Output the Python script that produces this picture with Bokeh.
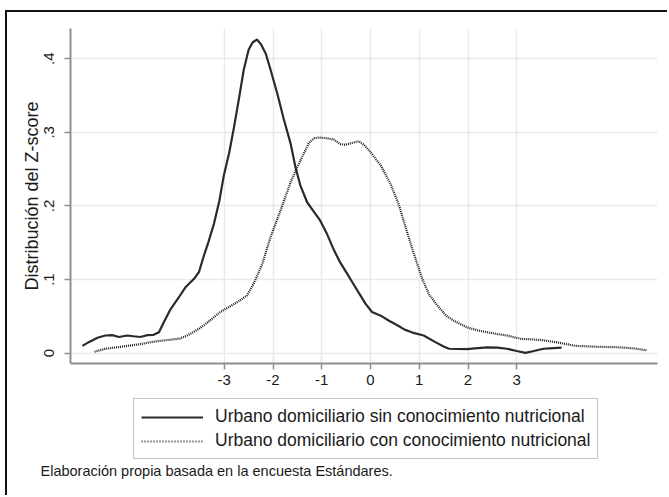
from bokeh.plotting import figure
from bokeh.layouts import column
from bokeh.models import Range1d, FixedTicker, Legend, LegendItem, Label
from bokeh.embed import file_html
from bokeh.resources import INLINE

# Kernel density, urban households WITHOUT nutrition knowledge (solid)
solid_x = [-5.91, -5.78, -5.60, -5.44, -5.30, -5.16, -4.99, -4.86, -4.72, -4.58,
           -4.45, -4.34, -4.24, -4.10, -3.93, -3.79, -3.62, -3.52, -3.42, -3.32,
           -3.21, -3.10, -3.01, -2.90, -2.80, -2.70, -2.60, -2.50, -2.42, -2.33,
           -2.25, -2.15, -2.05, -1.91, -1.78, -1.64, -1.54, -1.44, -1.30, -1.16,
           -1.03, -0.90, -0.75, -0.62, -0.48, -0.36, -0.24, -0.10, 0.03, 0.21,
           0.38, 0.55, 0.70, 0.86, 1.09, 1.33, 1.50, 1.61, 1.98, 2.20,
           2.40, 2.60, 2.80, 3.00, 3.18, 3.35, 3.55, 3.75, 3.92]
solid_y = [0.010, 0.015, 0.021, 0.024, 0.0245, 0.022, 0.024, 0.023, 0.022, 0.0245,
           0.025, 0.0285, 0.042, 0.060, 0.076, 0.090, 0.101, 0.110, 0.132, 0.152,
           0.176, 0.207, 0.241, 0.272, 0.307, 0.345, 0.385, 0.412, 0.422, 0.426,
           0.420, 0.407, 0.385, 0.352, 0.318, 0.285, 0.253, 0.228, 0.205, 0.192,
           0.180, 0.163, 0.140, 0.123, 0.108, 0.095, 0.082, 0.067, 0.056, 0.051,
           0.044, 0.038, 0.032, 0.028, 0.024, 0.015, 0.009, 0.006, 0.0055, 0.007,
           0.008, 0.0075, 0.006, 0.003, 0.0005, 0.003, 0.006, 0.007, 0.0075]

# Kernel density, urban households WITH nutrition knowledge (dotted)
dot_x = [-5.66, -5.44, -5.09, -4.75, -4.41, -4.07, -3.90, -3.73, -3.52, -3.30,
         -3.08, -2.74, -2.54, -2.40, -2.22, -2.05, -1.85, -1.64, -1.50, -1.40,
         -1.26, -1.15, -1.06, -0.90, -0.75, -0.62, -0.52, -0.41, -0.24, -0.12,
         0.00, 0.21, 0.41, 0.58, 0.72, 0.86, 1.06, 1.20, 1.37, 1.55,
         1.71, 1.98, 2.20, 2.39, 2.60, 2.80, 3.08, 3.25, 3.49, 3.80,
         4.20, 4.66, 5.10, 5.40, 5.66]
dot_y = [0.002, 0.006, 0.009, 0.012, 0.016, 0.0186, 0.020, 0.025, 0.033, 0.044,
         0.056, 0.069, 0.078, 0.094, 0.121, 0.158, 0.193, 0.232, 0.253, 0.267,
         0.286, 0.292, 0.293, 0.292, 0.290, 0.284, 0.283, 0.285, 0.288, 0.282,
         0.273, 0.255, 0.230, 0.202, 0.171, 0.141, 0.101, 0.080, 0.065, 0.051,
         0.044, 0.035, 0.031, 0.0285, 0.026, 0.024, 0.0195, 0.019, 0.018, 0.015,
         0.010, 0.0087, 0.008, 0.0065, 0.004]

x_ticks = [-3, -2, -1, 0, 1, 2, 3]
x_tick_labels = ["-3", "-2", "-1", "0", "1", "2", "3"]
y_ticks = [0, 0.1, 0.2, 0.3, 0.4]
y_tick_labels = ["0", ".1", ".2", ".3", ".4"]
series_names = ["Urbano domiciliario sin conocimiento nutricional",
                "Urbano domiciliario con conocimiento nutricional"]
y_title = "Distribución del Z-score"
note = "Elaboración propia basada en la encuesta Estándares."

FONT = "Liberation Sans"
AXIS_GRAY = "#8f8f8f"
TXT = "#1a1a1a"
SOLID = dict(line_color="#2a2a2a", line_width=2.2)
DOTTED = dict(line_color="#1e1e1e", line_width=2.2, line_dash="1 1")
DOTTED_KEY = dict(line_color="#333333", line_width=2, line_dash="1 2")

# ---- main plot ----
p = figure(width=660, height=385,
           x_range=Range1d(-6.154, 5.887), y_range=Range1d(-0.014, 0.441),
           output_backend="svg", toolbar_location=None,
           min_border_left=63, min_border_right=10,
           min_border_top=16, min_border_bottom=34)
p.frame_align = False
p.outline_line_color = None
p.background_fill_color = "white"
p.border_fill_color = "white"

p.xaxis.ticker = FixedTicker(ticks=x_ticks)
p.xaxis.major_label_overrides = {t: s for t, s in zip(x_ticks, x_tick_labels)}
p.yaxis.ticker = FixedTicker(ticks=y_ticks)
p.yaxis.major_label_overrides = {t: s for t, s in zip(y_ticks, y_tick_labels)}
p.yaxis.major_label_orientation = "vertical"
for ax in (p.xaxis[0], p.yaxis[0]):
    ax.axis_line_color = AXIS_GRAY
    ax.axis_line_width = 2
    ax.major_tick_line_color = AXIS_GRAY
    ax.major_tick_line_width = 1.5
    ax.major_tick_out = 6
    ax.major_tick_in = 0
    ax.minor_tick_line_color = None
    ax.major_label_text_font = FONT
    ax.major_label_text_font_size = "15px"
    ax.major_label_text_color = TXT
    ax.major_label_standoff = 5
p.yaxis.major_label_standoff = 10
p.yaxis.axis_label = y_title
p.yaxis.axis_label_text_font = FONT
p.yaxis.axis_label_text_font_size = "18px"
p.yaxis.axis_label_text_font_style = "normal"
p.yaxis.axis_label_text_color = TXT
p.yaxis.axis_label_standoff = 0

p.grid.grid_line_color = "#e9e9e9"
p.grid.grid_line_width = 1.5

p.line(solid_x, solid_y, **SOLID)
p.line(dot_x, dot_y, **DOTTED)

# ---- legend + note panel (series drawn off-range, used only for legend keys) ----
q = figure(width=660, height=98, x_range=Range1d(100, 101), y_range=Range1d(100, 101),
           output_backend="svg", toolbar_location=None,
           x_axis_location=None, y_axis_location=None, min_border=0)
q.frame_align = False
q.outline_line_color = None
q.grid.visible = False
q.background_fill_color = "white"
q.border_fill_color = "white"
k1 = q.line(solid_x, solid_y, **SOLID)
k2 = q.line(dot_x, dot_y, **DOTTED_KEY)

legend = Legend(items=[LegendItem(label=series_names[0], renderers=[k1]),
                       LegendItem(label=series_names[1], renderers=[k2])],
                location=(126, 36), orientation="vertical",
                border_line_color="#8a8a8a", border_line_width=1.5,
                padding=7, spacing=3, margin=0,
                glyph_width=62, glyph_height=20, label_height=20,
                label_standoff=12, label_text_font=FONT,
                label_text_font_size="17.5px", label_text_color=TXT,
                background_fill_color="white", background_fill_alpha=1)
q.add_layout(legend, "center")

q.add_layout(Label(x=33, y=25, x_units="screen", y_units="screen",
                   text=note, text_font=FONT, text_font_size="14.5px",
                   text_color=TXT, text_baseline="middle", text_align="left"))

layout = column(p, q, spacing=0)
layout.styles = {"border-top": "2px solid #111", "border-left": "2px solid #111",
                 "margin-left": "5px", "margin-top": "10px"}

open("out.html", "w").write(file_html(layout, INLINE))
